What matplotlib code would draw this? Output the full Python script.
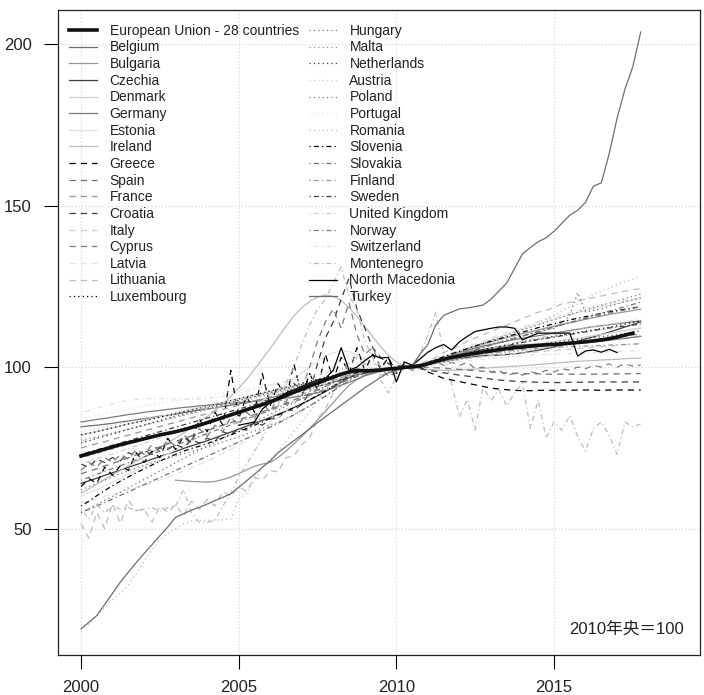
import matplotlib
matplotlib.use("Agg")
import matplotlib.pyplot as plt
import numpy as np

# quarterly index values, 2010 mid-year = 100
eu28 = [72.5, 73.2, 73.9, 74.6, 75.3, 76.0, 76.6, 77.2, 77.8, 78.4, 79.0, 79.5,
        80.0, 80.6, 81.3, 82.0, 82.8, 83.6, 84.4, 85.2, 86.0, 86.8, 87.6, 88.4,
        89.2, 90.2, 91.2, 92.2, 93.2, 94.2, 95.1, 96.0, 96.9, 97.8, 98.5, 99.0,
        98.8, 98.9, 99.1, 99.4, 99.6, 99.9, 100.1, 100.4, 101.0, 101.8, 102.4, 103.0,
        103.4, 103.9, 104.3, 104.7, 105.0, 105.4, 105.7, 106.0, 106.2, 106.5, 106.7, 106.9,
        107.0, 107.2, 107.4, 107.6, 107.8, 108.1, 108.4, 108.8, 109.3, 109.9, 110.5]
belgium = [81.5, 81.8, 82.0, 82.3, 82.6, 83.0, 83.3, 83.7, 84.0, 84.4, 84.8, 85.1,
           85.5, 85.9, 86.3, 86.7, 87.0, 87.4, 87.8, 88.2, 88.6, 89.0, 89.5, 90.0,
           90.5, 91.0, 91.6, 92.2, 92.8, 93.4, 94.0, 94.7, 95.4, 96.1, 96.9, 97.6,
           98.2, 98.6, 98.9, 99.2, 99.5, 99.8, 100.2, 100.6, 101.3, 102.0, 102.8, 103.5,
           104.0, 104.6, 105.1, 105.5, 105.9, 106.2, 106.5, 106.7, 106.9, 107.0, 107.1, 107.2,
           107.2, 107.3, 107.4, 107.5, 107.6, 107.8, 108.0, 108.3, 108.6, 108.9, 109.2, 109.5]
bulgaria = [65.0, 64.8, 64.6, 64.5, 64.4, 64.6, 65.2, 66.0, 67.0, 68.2, 69.3, 70.0,
            70.5, 72.0, 74.0, 76.2, 78.5, 81.0, 83.6, 86.3, 89.0, 91.8, 94.3, 96.2,
            97.5, 98.3, 98.9, 99.3, 99.6, 99.9, 100.2, 100.6, 101.3, 102.2, 103.1, 104.0,
            104.8, 105.6, 106.4, 107.1, 107.8, 108.5, 109.1, 109.7, 110.3, 110.9, 111.5, 112.1,
            112.7, 113.2, 113.7, 114.2, 114.8, 115.3, 115.8, 116.3, 116.7, 117.1, 117.5, 117.9]
czechia = [64.0, 64.8, 65.6, 66.5, 67.3, 68.1, 69.0, 69.8, 70.6, 71.5, 72.3, 73.1,
           73.9, 74.8, 75.6, 76.4, 77.2, 78.1, 79.0, 79.9, 80.8, 81.7, 82.6, 83.5,
           84.4, 85.4, 86.4, 87.5, 88.6, 89.8, 91.1, 92.4, 93.8, 95.3, 96.8, 98.0,
           98.5, 98.7, 98.9, 99.2, 99.5, 99.8, 100.2, 100.5, 100.9, 101.4, 101.9, 102.3,
           102.7, 103.0, 103.3, 103.5, 103.6, 103.7, 103.9, 104.1, 104.4, 104.8, 105.2, 105.7,
           106.2, 106.8, 107.4, 108.0, 108.7, 109.4, 110.1, 110.8, 111.6, 112.4, 113.2, 114.0]
denmark = [79.0, 79.6, 80.1, 80.7, 81.2, 81.8, 82.4, 82.9, 83.5, 84.1, 84.6, 85.2,
           85.7, 86.3, 86.9, 87.4, 88.0, 88.6, 89.1, 89.7, 90.2, 90.8, 91.4, 91.9,
           92.5, 93.1, 93.6, 94.2, 94.7, 95.3, 95.9, 96.4, 97.0, 97.5, 98.0, 98.4,
           98.8, 99.1, 99.3, 99.5, 99.7, 99.9, 100.1, 100.4, 100.8, 101.3, 101.8, 102.3,
           102.8, 103.3, 103.8, 104.2, 104.7, 105.1, 105.5, 105.9, 106.3, 106.7, 107.1, 107.5,
           107.9, 108.3, 108.6, 108.9, 109.3, 109.7, 110.1, 110.5, 110.9, 111.3, 111.7, 112.1]
germany = [83.0, 83.4, 83.8, 84.1, 84.5, 84.9, 85.3, 85.6, 86.0, 86.3, 86.6, 86.9,
           87.2, 87.5, 87.7, 88.0, 88.2, 88.4, 88.6, 88.8, 89.0, 89.2, 89.4, 89.6,
           89.8, 90.1, 90.4, 90.7, 91.1, 91.6, 92.1, 92.7, 93.5, 94.4, 95.3, 96.2,
           97.3, 98.0, 98.6, 99.1, 99.5, 99.8, 100.2, 100.7, 101.4, 102.2, 103.0, 103.8,
           104.5, 105.2, 105.9, 106.5, 107.0, 107.5, 108.0, 108.5, 108.9, 109.3, 109.7, 110.1,
           110.5, 110.9, 111.3, 111.7, 112.1, 112.5, 112.8, 113.1, 113.4, 113.7, 114.0, 114.3]
estonia = [60.0, 61.2, 62.1, 63.3, 64.4, 65.5, 66.9, 68.0, 69.2, 70.6, 71.8, 73.1,
           74.5, 75.6, 77.0, 78.3, 79.6, 81.0, 82.2, 83.7, 85.1, 86.5, 88.0, 89.6,
           91.2, 92.9, 94.6, 96.4, 98.2, 100.1, 101.8, 103.3, 104.4, 105.0, 104.8, 103.9,
           102.5, 101.2, 100.2, 99.6, 99.4, 99.7, 100.1, 100.6, 101.4, 102.3, 103.2, 104.0,
           104.9, 105.8, 106.7, 107.6, 108.4, 109.3, 110.1, 110.9, 111.7, 112.5, 113.3, 114.1,
           114.8, 115.5, 116.2, 116.8, 117.4, 118.0, 118.6, 119.2, 119.7, 120.2, 120.7, 121.2]
ireland = [61.0, 62.3, 63.8, 65.2, 66.7, 68.0, 69.5, 70.8, 72.2, 73.7, 75.1, 76.6,
           78.0, 79.6, 81.2, 82.9, 84.7, 86.6, 88.6, 90.9, 93.4, 96.2, 99.3, 102.5,
           105.8, 109.2, 112.6, 115.8, 118.4, 120.3, 121.7, 122.3, 121.9, 120.6, 118.4, 115.7,
           112.6, 109.4, 106.3, 103.6, 101.6, 100.4, 99.8, 99.5, 99.3, 99.1, 99.0, 99.0,
           99.1, 99.2, 99.4, 99.6, 99.8, 100.0, 100.1, 100.3, 100.4, 100.6, 100.8, 101.0,
           101.2, 101.4, 101.6, 101.8, 101.9, 102.0, 102.2, 102.3, 102.4, 102.6, 102.7, 102.8]
greece = [63.0, 65.5, 64.0, 69.0, 66.5, 69.5, 68.0, 73.5, 70.5, 74.0, 72.0, 78.0,
          74.5, 78.5, 76.5, 84.0, 80.0, 86.0, 82.0, 99.0, 84.0, 91.0, 86.0, 98.0,
          88.0, 95.0, 90.0, 101.0, 91.0, 98.0, 93.0, 104.0, 96.0, 103.0, 98.0, 106.0,
          99.0, 104.0, 99.5, 103.0, 98.0, 101.0, 99.0, 100.0, 98.5, 97.5, 96.5, 96.0,
          95.5, 95.0, 94.5, 94.0, 93.5, 93.2, 93.0, 92.8, 92.7, 92.7, 92.8, 92.8,
          92.8, 92.9, 92.8, 92.9, 92.9, 92.9, 92.8, 92.9, 92.9, 92.9, 92.9, 92.9]
spain = [67.0, 67.8, 68.5, 69.4, 70.2, 71.0, 71.9, 72.8, 73.6, 74.5, 75.3, 76.2,
         77.0, 77.8, 78.7, 79.6, 80.4, 81.2, 82.0, 82.8, 83.6, 84.5, 85.3, 86.2,
         87.0, 87.9, 88.8, 89.8, 90.8, 91.8, 92.9, 94.0, 95.2, 96.4, 97.4, 98.2,
         98.8, 99.3, 99.6, 99.8, 99.9, 100.0, 100.1, 100.0, 99.9, 99.8, 99.7, 99.5,
         99.3, 99.1, 98.9, 98.7, 98.5, 98.3, 98.2, 98.1, 98.0, 97.9, 97.9, 97.8,
         97.8, 97.8, 97.8, 97.8, 97.8, 97.8, 97.8, 97.9, 97.9, 97.9, 98.0, 98.0]
france = [75.0, 75.6, 76.3, 76.9, 77.6, 78.3, 78.9, 79.6, 80.3, 80.9, 81.6, 82.3,
          82.9, 83.6, 84.3, 84.9, 85.6, 86.3, 86.9, 87.6, 88.2, 88.9, 89.5, 90.2,
          90.8, 91.5, 92.1, 92.8, 93.4, 94.1, 94.7, 95.4, 96.0, 96.7, 97.3, 97.9,
          98.4, 98.8, 99.2, 99.5, 99.7, 99.9, 100.1, 100.4, 100.9, 101.4, 101.9, 102.4,
          102.9, 103.4, 103.8, 104.2, 104.5, 104.8, 105.1, 105.4, 105.7, 106.0, 106.3, 106.6,
          106.9, 107.2, 107.5, 107.8, 108.1, 108.4, 108.7, 109.0, 109.3, 109.6, 109.9, 110.2]
croatia = [70.0, 69.0, 71.5, 70.5, 72.0, 71.0, 73.5, 72.5, 74.0, 73.0, 75.0, 74.5,
           76.0, 75.0, 77.5, 76.5, 78.0, 77.0, 80.0, 79.0, 81.0, 80.5, 83.0, 82.0,
           84.0, 84.0, 87.0, 86.5, 88.5, 92.0, 101.0, 109.0, 114.0, 121.0, 127.5, 118.0,
           112.0, 106.0, 103.0, 101.0, 100.5, 100.2, 99.8, 99.5, 99.0, 98.7, 98.2, 97.9,
           97.5, 97.2, 96.9, 96.6, 96.3, 96.0, 95.8, 95.6, 95.5, 95.4, 95.3, 95.3,
           95.2, 95.2, 95.3, 95.3, 95.3, 95.4, 95.4, 95.4, 95.4, 95.4, 95.4, 95.4]
italy = [77.0, 77.6, 78.2, 78.9, 79.5, 80.1, 80.7, 81.4, 82.0, 82.6, 83.2, 83.9,
         84.5, 85.1, 85.7, 86.4, 87.0, 87.6, 88.2, 88.9, 89.5, 90.1, 90.7, 91.4,
         92.0, 92.6, 93.2, 93.9, 94.5, 95.1, 95.7, 96.4, 97.0, 97.6, 98.1, 98.6,
         99.0, 99.3, 99.5, 99.7, 99.8, 99.9, 100.1, 100.3, 100.7, 101.1, 101.5, 101.9,
         102.3, 102.6, 102.9, 103.2, 103.5, 103.7, 103.9, 104.1, 104.3, 104.5, 104.7, 104.9,
         105.1, 105.3, 105.5, 105.7, 105.9, 106.1, 106.3, 106.5, 106.7, 106.9, 107.1, 107.3]
cyprus = [68.0, 70.5, 69.0, 72.0, 70.5, 73.0, 71.5, 74.5, 73.0, 76.0, 74.0, 77.5,
          75.5, 79.0, 77.0, 81.0, 78.5, 82.0, 80.0, 84.5, 82.0, 86.0, 84.0, 89.0,
          86.0, 91.0, 89.0, 95.0, 93.0, 100.0, 108.0, 114.0, 118.0, 112.0, 120.0, 110.0,
          104.0, 106.0, 100.0, 97.0, 98.5, 100.5, 99.5, 101.0, 100.0, 102.0, 100.5, 101.5,
          100.5, 101.5, 99.5, 100.0, 98.5, 99.0, 97.5, 98.0, 97.5, 98.5, 98.0, 99.0,
          98.5, 99.5, 99.0, 100.0, 99.5, 100.5, 100.0, 101.0, 100.0, 101.0, 100.3, 100.6]
latvia = [58.0, 58.6, 59.3, 60.0, 60.6, 61.3, 62.0, 62.8, 63.5, 64.3, 65.1, 66.0,
          66.9, 67.8, 68.8, 69.8, 70.9, 72.0, 73.2, 74.5, 75.9, 77.4, 79.0, 80.7,
          82.5, 84.4, 86.4, 88.5, 90.7, 93.0, 95.4, 97.8, 100.1, 102.0, 103.2, 103.6,
          103.0, 101.8, 100.6, 99.8, 99.4, 99.6, 100.2, 100.8, 101.6, 102.5, 103.4, 104.3,
          105.2, 106.2, 107.2, 108.1, 109.0, 109.9, 110.8, 111.6, 112.4, 113.2, 114.0, 114.7,
          115.4, 116.1, 116.8, 117.4, 118.0, 118.6, 119.2, 119.7, 120.2, 120.6, 121.0, 121.4]
lithuania = [51.6, 47.0, 55.0, 50.0, 57.8, 51.6, 58.8, 55.6, 56.0, 52.0, 57.0, 55.0,
             57.5, 54.0, 58.5, 56.0, 59.0, 57.0, 61.5, 60.0, 63.0, 61.5, 66.0, 65.0,
             68.0, 67.5, 72.0, 72.5, 76.0, 78.0, 84.0, 87.0, 92.0, 96.0, 102.0, 103.0,
             101.0, 99.0, 97.5, 98.0, 98.5, 99.5, 100.5, 101.0, 102.0, 103.0, 104.5, 105.5,
             106.5, 108.0, 109.0, 110.0, 111.0, 112.0, 113.0, 114.0, 115.0, 116.0, 117.0, 117.5,
             118.5, 119.5, 120.0, 120.5, 121.0, 121.5, 122.0, 122.5, 123.0, 123.5, 124.0, 124.2]
luxembourg = [79.0, 79.5, 80.0, 80.6, 81.2, 81.8, 82.4, 82.9, 83.4, 83.9, 84.5, 85.0,
              85.5, 86.1, 86.7, 87.2, 87.8, 88.4, 89.0, 89.6, 90.2, 90.8, 91.4, 92.0,
              92.6, 93.2, 93.8, 94.4, 95.0, 95.6, 96.2, 96.8, 97.4, 98.0, 98.6, 99.1,
              99.3, 99.4, 99.5, 99.6, 99.7, 99.9, 100.1, 100.4, 100.9, 101.6, 102.3, 103.0,
              103.7, 104.3, 104.9, 105.4, 105.9, 106.4, 106.9, 107.4, 107.9, 108.3, 108.7, 109.1,
              109.5, 109.9, 110.3, 110.7, 111.1, 111.5, 111.9, 112.3, 112.8, 113.3, 113.8, 114.3]
hungary = [55.0, 56.2, 57.5, 58.8, 60.0, 61.3, 62.6, 63.9, 65.2, 66.5, 67.8, 69.1,
           70.4, 71.7, 73.0, 74.3, 75.5, 76.8, 78.0, 79.3, 80.5, 81.8, 83.0, 84.2,
           85.4, 86.6, 87.8, 89.0, 90.2, 91.4, 92.7, 94.0, 95.3, 96.6, 97.8, 99.0,
           99.3, 99.0, 98.8, 99.0, 99.3, 99.7, 100.2, 100.8, 101.5, 102.3, 103.0, 103.8,
           104.5, 105.2, 105.9, 106.5, 107.2, 107.8, 108.4, 109.0, 109.6, 110.2, 110.8, 111.4,
           112.0, 113.5, 116.0, 123.0, 117.0, 117.5, 118.0, 118.8, 119.5, 120.2, 120.8, 121.5]
malta = [77.4, 77.9, 78.5, 79.0, 79.6, 80.2, 80.8, 81.4, 82.0, 82.6, 83.2, 83.8,
         84.4, 85.0, 85.6, 86.2, 86.8, 87.4, 88.0, 88.6, 89.2, 89.8, 90.4, 91.0,
         91.6, 92.2, 92.8, 93.4, 94.0, 94.6, 95.2, 95.8, 96.4, 97.0, 97.6, 98.2,
         98.6, 99.0, 99.3, 99.5, 99.7, 99.9, 100.1, 100.3, 100.7, 101.1, 101.5, 101.9,
         102.3, 102.7, 103.1, 103.5, 103.9, 104.2, 104.5, 104.8, 105.1, 105.4, 105.7, 106.0,
         106.3, 106.6, 106.9, 107.2, 107.5, 107.8, 108.1, 108.4, 108.7, 109.0, 109.3, 109.6]
netherlands = [76.5, 77.2, 77.9, 78.6, 79.3, 80.0, 80.7, 81.4, 82.1, 82.8, 83.5, 84.2,
               84.9, 85.5, 86.1, 86.7, 87.3, 87.9, 88.5, 89.1, 89.7, 90.3, 90.9, 91.5,
               92.1, 92.7, 93.3, 93.9, 94.5, 95.1, 95.7, 96.3, 96.9, 97.5, 98.1, 98.6,
               99.0, 99.3, 99.5, 99.7, 99.8, 99.9, 100.1, 100.3, 100.7, 101.2, 101.7, 102.2,
               102.7, 103.2, 103.7, 104.1, 104.5, 104.9, 105.3, 105.7, 106.1, 106.5, 106.9, 107.3,
               107.6, 107.9, 108.2, 108.5, 108.8, 109.1, 109.4, 109.7, 110.0, 110.4, 110.8, 111.2]
austria = [80.0, 80.5, 81.0, 81.5, 82.0, 82.5, 83.0, 83.5, 84.0, 84.5, 85.0, 85.5,
           86.0, 86.5, 87.0, 87.5, 88.0, 88.5, 89.0, 89.5, 90.0, 90.5, 91.0, 91.5,
           92.0, 92.6, 93.2, 93.8, 94.4, 95.0, 95.6, 96.2, 96.8, 97.4, 98.0, 98.6,
           99.0, 99.3, 99.5, 99.7, 99.8, 99.9, 100.1, 100.4, 100.9, 101.5, 102.1, 102.7,
           103.3, 103.9, 104.5, 105.0, 105.5, 106.0, 106.5, 107.0, 107.5, 108.0, 108.4, 108.8,
           109.2, 109.6, 110.0, 110.4, 110.8, 111.2, 111.6, 112.0, 112.4, 112.8, 113.2, 113.6]
poland = [62.0, 63.0, 64.0, 65.0, 66.0, 67.0, 67.9, 68.8, 69.6, 70.4, 71.1, 71.8,
          72.5, 73.2, 73.9, 74.6, 75.3, 76.0, 76.8, 77.6, 78.4, 79.3, 80.2, 81.1,
          82.0, 83.0, 84.1, 85.3, 86.6, 88.0, 89.5, 91.1, 92.8, 94.5, 96.1, 97.5,
          98.4, 98.9, 99.2, 99.5, 99.7, 99.9, 100.2, 100.6, 101.3, 102.1, 103.0, 103.9,
          104.8, 105.7, 106.6, 107.5, 108.3, 109.1, 109.9, 110.7, 111.5, 112.3, 113.1, 113.9,
          114.7, 115.5, 116.3, 117.0, 117.7, 118.4, 119.1, 119.8, 120.5, 121.2, 121.9, 122.6]
portugal = [84.0, 84.5, 85.0, 85.5, 86.0, 86.5, 87.0, 87.5, 88.0, 88.4, 88.8, 89.2,
            89.6, 90.0, 90.4, 90.8, 91.2, 91.6, 92.0, 92.4, 92.8, 93.2, 93.6, 94.0,
            94.4, 94.8, 95.2, 95.6, 96.0, 96.4, 96.8, 97.2, 97.6, 98.0, 98.4, 98.8,
            99.1, 99.4, 99.6, 99.8, 99.9, 100.0, 100.1, 100.1, 100.1, 100.0, 99.9, 99.8,
            99.7, 99.6, 99.5, 99.4, 99.3, 99.3, 99.3, 99.4, 99.5, 99.6, 99.7, 99.8,
            99.9, 100.0, 100.1, 100.2, 100.3, 100.4, 100.5, 100.6, 100.7, 100.8, 100.9, 101.0]
romania = [18.5, 20.5, 23.0, 25.5, 28.0, 30.0, 32.5, 36.0, 40.0, 43.5, 46.5, 48.5,
           50.0, 51.5, 52.4, 52.6, 52.6, 52.6, 52.7, 53.0, 59.0, 61.0, 65.0, 69.0,
           71.5, 74.0, 77.0, 80.0, 83.0, 86.0, 89.5, 93.0, 96.0, 99.0, 101.0, 102.5,
           101.0, 99.5, 98.5, 98.8, 99.2, 99.6, 100.3, 101.0, 101.5, 102.5, 103.0, 103.5,
           104.5, 105.5, 106.5, 107.0, 108.0, 109.0, 110.0, 111.0, 112.0, 113.0, 114.0, 115.0,
           116.0, 117.5, 118.5, 119.5, 121.0, 122.5, 123.5, 124.5, 125.5, 126.5, 127.2, 127.8]
slovenia = [57.0, 58.5, 60.2, 61.8, 63.3, 64.7, 66.0, 67.3, 68.5, 69.7, 70.9, 72.0,
            73.0, 74.0, 74.8, 75.5, 76.3, 77.2, 78.1, 79.0, 80.0, 81.0, 82.0, 83.0,
            84.1, 85.2, 86.3, 87.4, 88.6, 89.9, 91.2, 92.6, 94.1, 95.7, 97.2, 98.4,
            99.0, 99.1, 99.2, 99.4, 99.6, 99.9, 100.2, 100.7, 101.4, 102.3, 103.2, 104.1,
            104.9, 105.7, 106.5, 107.3, 108.0, 108.7, 109.4, 110.1, 110.8, 111.5, 112.2, 112.8,
            113.4, 114.0, 114.6, 115.1, 115.6, 116.1, 116.6, 117.1, 117.5, 117.9, 118.3, 118.7]
slovakia = [55.0, 56.0, 57.0, 58.1, 59.2, 60.3, 61.4, 62.5, 63.6, 64.7, 65.8, 66.9,
            68.0, 69.1, 70.2, 71.3, 72.4, 73.5, 74.6, 75.7, 76.8, 77.9, 79.0, 80.2,
            81.4, 82.6, 83.9, 85.2, 86.6, 88.0, 89.5, 91.0, 92.6, 94.2, 95.8, 97.2,
            98.2, 98.8, 99.1, 99.4, 99.6, 99.9, 100.2, 100.6, 101.2, 101.9, 102.6, 103.3,
            104.0, 104.7, 105.4, 106.1, 106.8, 107.5, 108.2, 108.9, 109.6, 110.3, 111.0, 111.7,
            112.4, 113.1, 113.8, 114.5, 115.2, 115.9, 116.6, 117.3, 118.0, 118.7, 119.4, 120.1]
finland = [72.0, 72.6, 73.3, 74.0, 74.7, 75.4, 76.1, 76.8, 77.5, 78.2, 78.9, 79.6,
           80.3, 81.0, 81.7, 82.4, 83.1, 83.8, 84.5, 85.2, 85.9, 86.6, 87.3, 88.0,
           88.7, 89.4, 90.1, 90.8, 91.6, 92.4, 93.2, 94.1, 95.0, 95.9, 96.8, 97.6,
           98.3, 98.9, 99.3, 99.6, 99.8, 99.9, 100.1, 100.4, 100.8, 101.3, 101.8, 102.3,
           102.8, 103.2, 103.6, 104.0, 104.3, 104.6, 104.9, 105.2, 105.4, 105.6, 105.8, 106.0,
           106.1, 106.2, 106.3, 106.4, 106.5, 106.6, 106.7, 106.8, 106.9, 107.0, 107.1, 107.2]
sweden = [73.0, 73.7, 74.4, 75.1, 75.8, 76.5, 77.2, 77.9, 78.6, 79.3, 80.0, 80.7,
          81.4, 82.1, 82.8, 83.5, 84.2, 84.9, 85.6, 86.3, 87.0, 87.7, 88.4, 89.1,
          89.8, 90.5, 91.2, 91.9, 92.6, 93.3, 94.0, 94.7, 95.4, 96.1, 96.8, 97.5,
          98.1, 98.6, 99.0, 99.4, 99.7, 99.9, 100.1, 100.5, 101.0, 101.6, 102.2, 102.8,
          103.4, 104.0, 104.6, 105.1, 105.6, 106.1, 106.6, 107.1, 107.6, 108.1, 108.5, 108.9,
          109.3, 109.7, 110.1, 110.5, 110.9, 111.3, 111.7, 112.1, 112.4, 112.7, 113.0, 113.3]
united_kingdom = [70.0, 70.8, 71.6, 72.4, 73.2, 74.0, 74.8, 75.6, 76.4, 77.2, 78.0, 78.8,
                  79.6, 80.4, 81.2, 82.0, 82.8, 83.6, 84.4, 85.2, 86.0, 86.8, 87.6, 88.4,
                  89.2, 90.0, 90.8, 91.6, 92.4, 93.2, 94.0, 94.8, 95.6, 96.4, 97.2, 97.9,
                  98.5, 99.0, 99.3, 99.6, 99.8, 99.9, 100.1, 100.4, 100.9, 101.5, 102.1, 102.7,
                  103.3, 103.9, 104.5, 105.1, 105.7, 106.3, 106.9, 107.5, 108.0, 108.5, 109.0, 109.5,
                  110.0, 110.5, 111.0, 111.5, 112.0, 112.4, 112.8, 113.2, 113.6, 114.0, 114.4, 114.8]
norway = [65.0, 65.9, 66.8, 67.7, 68.6, 69.5, 70.4, 71.3, 72.2, 73.1, 74.0, 74.9,
          75.8, 76.7, 77.6, 78.5, 79.4, 80.3, 81.2, 82.1, 83.0, 83.9, 84.8, 85.7,
          86.6, 87.5, 88.4, 89.3, 90.2, 91.2, 92.2, 93.2, 94.2, 95.2, 96.2, 97.1,
          97.9, 98.6, 99.1, 99.5, 99.7, 99.9, 100.2, 100.6, 101.2, 101.9, 102.6, 103.3,
          104.0, 104.7, 105.4, 106.1, 106.8, 107.5, 108.2, 108.9, 109.6, 110.3, 111.0, 111.7,
          112.4, 113.1, 113.7, 114.3, 114.9, 115.5, 116.1, 116.7, 117.2, 117.7, 118.2, 118.7]
switzerland = [86.0, 86.6, 87.3, 88.0, 88.6, 89.2, 89.7, 90.0, 90.2, 90.3, 90.3, 90.2,
               90.1, 90.0, 90.0, 90.1, 90.3, 90.6, 91.0, 91.5, 92.0, 92.6, 93.2, 93.8,
               94.4, 95.0, 95.6, 96.2, 96.8, 97.3, 97.8, 98.3, 98.7, 99.1, 99.4, 99.6,
               99.7, 99.8, 99.9, 99.9, 100.0, 100.0, 100.1, 100.2, 100.4, 100.7, 101.0, 101.3,
               101.6, 101.9, 102.2, 102.5, 102.7, 102.9, 103.1, 103.3, 103.5, 103.7, 103.8, 103.9,
               104.0, 104.1, 104.2, 104.3, 104.4, 104.5, 104.6, 104.7, 104.8, 104.9, 105.0, 105.1]
montenegro = [56.0, 53.0, 57.5, 55.0, 57.0, 56.0, 56.5, 55.5, 56.0, 56.5, 55.5, 56.5,
              57.0, 62.0, 55.0, 52.0, 52.0, 52.5, 57.0, 61.0, 66.0, 70.0, 74.0, 78.0,
              83.0, 88.0, 95.0, 100.0, 107.0, 113.0, 118.0, 121.0, 126.0, 131.0, 122.0, 118.0,
              108.0, 103.0, 96.0, 92.0, 97.0, 100.0, 99.0, 104.0, 110.0, 117.0, 104.0, 95.0,
              84.5, 90.0, 80.5, 94.0, 89.5, 93.0, 88.0, 92.0, 95.0, 81.0, 90.0, 78.0,
              83.0, 80.5, 85.0, 78.5, 74.0, 81.0, 83.0, 79.0, 73.0, 83.0, 81.5, 82.4]
north_macedonia = [82.0, 82.5, 83.0, 87.0, 89.0, 90.5, 92.0, 93.0, 94.0, 95.0, 96.0, 96.5,
                   99.0, 106.0, 99.0, 100.0, 102.0, 103.7, 102.8, 103.0, 95.4, 101.6, 100.6, 102.5,
                   104.6, 106.0, 107.0, 105.3, 107.8, 109.5, 111.0, 111.5, 112.0, 112.4, 112.4, 112.0,
                   108.4, 109.5, 110.5, 110.5, 110.5, 110.5, 110.5, 103.4, 105.0, 105.3, 104.6, 105.5,
                   104.5]
turkey = [19.0, 21.0, 23.1, 26.5, 30.0, 33.5, 36.5, 39.5, 42.3, 45.0, 47.8, 50.5,
          53.5, 54.6, 55.7, 56.6, 57.6, 58.7, 59.7, 60.8, 62.8, 64.8, 66.8, 69.0,
          71.0, 73.5, 75.4, 77.2, 79.0, 80.9, 82.8, 84.6, 86.4, 88.2, 90.0, 91.8,
          93.6, 95.2, 96.8, 98.3, 99.0, 99.6, 100.4, 104.0, 107.0, 113.0, 116.0, 117.0,
          118.0, 118.3, 118.7, 119.2, 121.0, 123.5, 126.0, 130.5, 135.0, 137.0, 138.8, 140.0,
          142.0, 144.5, 147.0, 148.5, 151.0, 156.0, 157.0, 166.0, 177.0, 186.0, 193.0, 203.7]

labels = ["European Union - 28 countries", "Belgium", "Bulgaria", "Czechia", "Denmark",
          "Germany", "Estonia", "Ireland", "Greece", "Spain", "France", "Croatia", "Italy",
          "Cyprus", "Latvia", "Lithuania", "Luxembourg", "Hungary", "Malta", "Netherlands",
          "Austria", "Poland", "Portugal", "Romania", "Slovenia", "Slovakia", "Finland",
          "Sweden", "United Kingdom", "Norway", "Switzerland", "Montenegro",
          "North Macedonia", "Turkey"]
values = [eu28, belgium, bulgaria, czechia, denmark, germany, estonia, ireland,
          greece, spain, france, croatia, italy, cyprus, latvia, lithuania,
          luxembourg, hungary, malta, netherlands, austria, poland, portugal, romania,
          slovenia, slovakia, finland, sweden, united_kingdom, norway, switzerland,
          montenegro, north_macedonia, turkey]
# first year of each series (quarterly data)
start_year = [2000] * 34
start_year[labels.index("Bulgaria")] = 2003
start_year[labels.index("North Macedonia")] = 2005

# 8 grey shades and line types cycled as in base R matplot
greys = ["#000000", "#6e6e6e", "#979797", "#3c3c3c", "#cdcdcd", "#7a7a7a", "#e2e2e2", "#bcbcbc"]
dashes = ["-", (0, (5, 4)), (0, (1, 2.5)), (0, (1, 2.5, 4, 2.5)), "-"]

fig = plt.figure(figsize=(7.04, 6.95), dpi=100)
ax = fig.add_axes([58 / 704, 40 / 695, 642 / 704, 645 / 695])

for i, (name, vals) in enumerate(zip(labels, values)):
    x = start_year[i] + np.arange(len(vals)) / 4
    if i == 0:
        ax.plot(x, vals, color="#111111", lw=2.6, label=name, zorder=5)
    else:
        ax.plot(x, vals, color=greys[i % 8], ls=dashes[i // 8], lw=0.9, label=name)

ax.set_xlim(1999.27, 2019.63)
ax.set_ylim(10.9, 210.5)
ax.set_xticks([2000, 2005, 2010, 2015])
ax.set_yticks([50, 100, 150, 200])
ax.grid(True, color="#d3d3d3", ls=(0, (1, 2)), lw=0.8)
ax.tick_params(axis="both", direction="out", length=10, width=0.8, labelsize=12)
ax.tick_params(axis="x", pad=8)
ax.tick_params(axis="y", pad=9)
for lab in ax.get_xticklabels() + ax.get_yticklabels():
    lab.set_family("Liberation Sans")
    lab.set_color("#222222")
for s in ax.spines.values():
    s.set_linewidth(0.9)
    s.set_color("#222222")

leg = ax.legend(loc="upper left", ncol=2, frameon=False,
                prop={"family": "Liberation Sans", "size": 10},
                handlelength=2.0, handletextpad=0.9, labelspacing=0.19,
                columnspacing=0.75, borderaxespad=0.0, bbox_to_anchor=(0.011, 0.985),
                borderpad=0.3)
for t in leg.get_texts():
    t.set_color("#222222")

ax.text(0.975, 0.028, "2010年央＝100", transform=ax.transAxes, ha="right", va="bottom",
        fontsize=12, family=["Liberation Sans", "Noto Sans CJK JP"], color="#222222")

fig.savefig("out.png", dpi=100)
